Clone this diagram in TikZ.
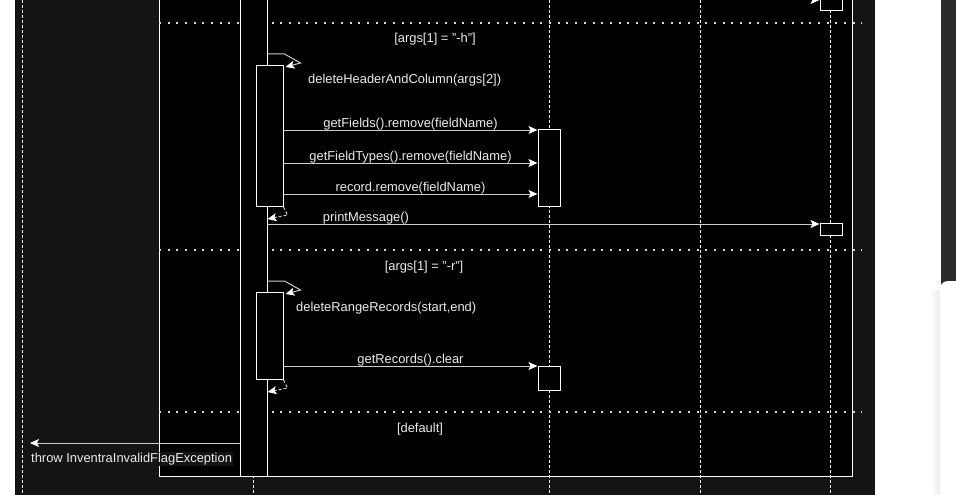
\documentclass[tikz,border=0pt]{standalone}
\usepackage{fontspec}
\setmainfont{Liberation Sans}
\usetikzlibrary{arrows.meta,positioning}
\definecolor{pagedark}{RGB}{20,20,20}
\definecolor{paneldark}{RGB}{44,44,44}
\definecolor{msggray}{RGB}{205,205,205}
\definecolor{txtgray}{RGB}{235,235,235}

\begin{document}
\begin{tikzpicture}[x=1pt,y=-1pt,
  act/.style={draw=white,fill=black,line width=1pt,minimum width=27pt,inner sep=0pt,anchor=north},
  tgt/.style={draw=white,fill=black,line width=1pt,minimum width=22pt,inner sep=0pt,anchor=north},
  msg/.style={draw=msggray,line width=1pt,-{Stealth[length=9pt,width=8pt,inset=2pt,color=white]}},
  ret/.style={msg,dash pattern=on 3pt off 2pt},
  life/.style={draw=white,line width=1pt,dash pattern=on 3pt off 2pt},
  sep/.style={draw=white!85!black,line width=2pt,dash pattern=on 2pt off 6.67pt},
  lbl/.style={text=txtgray,font=\fontsize{12.9}{15}\selectfont,inner sep=0pt}
]
\useasboundingbox (0,0) rectangle (956,495);
\clip (0,0) rectangle (956,495);
% page and side panel
\fill[white] (0,0) rectangle (956,495);
\fill[pagedark] (15,0) rectangle (875,495);
\fill[paneldark] (941,0) rectangle (956,290);
\shade[left color=white,right color=black!7] (930,290) rectangle (940,495);
\fill[white,rounded corners=8pt] (940,281) rectangle (970,510);
% alt frame
\fill[black] (159,-10) rectangle (852,476);
\draw[white,line width=1pt] (159,-10) rectangle (852,476);
% lifelines
\draw[life] (22,0) -- (22,495);
\draw[life] (253.5,0) -- (253.5,495);
\draw[life] (549,0) -- (549,495);
\draw[life] (700,0) -- (700,495);
\draw[life] (830.5,0) -- (830.5,495);
% guards
\draw[sep] (159,23) -- (862,23);
\draw[sep] (159,250) -- (862,250);
\draw[sep] (159,412) -- (862,412);
% activations
\node[act,minimum height=486pt] (mainact) at (253.5,-10) {};
\node[act,minimum height=141pt] (act1) at (269.5,65) {};
\node[act,minimum height=87pt] (act2) at (269.5,292) {};
\node[tgt,minimum height=77pt] (fields) at (549,129) {};
\node[tgt,minimum height=24pt] (records) at (549,366) {};
\node[tgt,minimum height=20pt] (ui0) at (831,-10) {};
\node[tgt,minimum height=12pt] (ui1) at (831,223) {};
\coordinate (r0) at (0,0);
\coordinate (s1) at (0,54);
\coordinate (r1) at (0,130);
\coordinate (r2) at (0,163);
\coordinate (r3) at (0,194);
\coordinate (r4) at (0,224);
\coordinate (s2) at (0,281);
\coordinate (r5) at (0,366);
\coordinate (exc) at (30,443);
% messages
\draw[msg] (mainact.east |- r0) -- (ui0.west |- r0);
\node[lbl] (hflag) at (435,39) {[args[1] = "-h"]};
\draw[msg] (mainact.east |- s1) -- ++(17,0) -- ++(16,9) -- ([shift={(2pt,-2pt)}]act1.north east);
\node[lbl,anchor=west] (delhdr) at (308,80) {deleteHeaderAndColumn(args[2])};
\draw[msg] (act1.east |- r1) -- (fields.west |- r1) node[lbl,midway,above=-0.5pt] (getf) {getFields().remove(fieldName)};
\draw[msg] (act1.east |- r2) -- (fields.west |- r2) node[lbl,midway,above=-0.5pt] (gett) {getFieldTypes().remove(fieldName)};
\draw[msg] (act1.east |- r3) -- (fields.west |- r3) node[lbl,midway,above=-0.5pt] (recrm) {record.remove(fieldName)};
\draw[ret] (act1.south east) -- ++(4,8) -- ([yshift=-12pt]act1.south -| mainact.east);
\draw[msg] (mainact.east |- r4) -- (ui1.west |- r4);
\node[lbl] (prt) at (366,218) {printMessage()};
\node[lbl] (rflag) at (424,267) {[args[1] = "-r"]};
\draw[msg] (mainact.east |- s2) -- ++(17,0) -- ++(16,9) -- ([shift={(2pt,-2pt)}]act2.north east);
\node[lbl,anchor=west] (delrng) at (296,308) {deleteRangeRecords(start,end)};
\draw[msg] (act2.east |- r5) -- (records.west |- r5) node[lbl,midway,above=-0.5pt] (clr) {getRecords().clear};
\draw[ret] (act2.south east) -- ++(4,8) -- ([yshift=-12pt]act2.south -| mainact.east);
\node[lbl] (dflt) at (420,429) {[default]};
\draw[msg] (mainact.west |- exc) -- (exc);
\node[lbl,anchor=north west,fill=pagedark,inner sep=1pt] (thr) at (30,452) {throw InventraInvalidFlagException};
\end{tikzpicture}
\end{document}
